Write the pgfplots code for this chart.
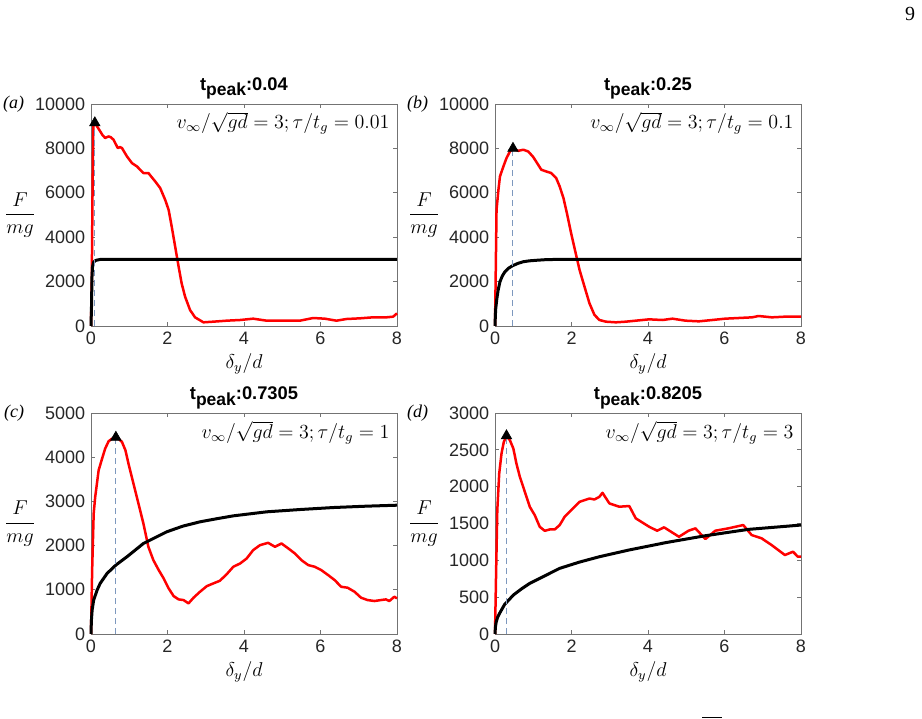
\documentclass[border=0pt]{standalone}
\usepackage{fontspec}
\setmainfont{Liberation Serif}
\newfontfamily\arial{Liberation Sans}
\usepackage{pgfplots}
\pgfplotsset{compat=1.18}
\definecolor{axgray}{gray}{0.15}
\definecolor{dashblue}{RGB}{125,152,190}
\newcommand\tickfont{\arial\fontsize{10.8}{13}\selectfont}
\newcommand\mathsz{\fontsize{12}{14}\selectfont}
\newcommand\ttl[1]{\arial\bfseries\fontsize{11}{13}\selectfont t\raisebox{-3.2pt}{\fontsize{10.5}{12}\selectfont peak}:#1}
\pgfplotsset{
  panel/.style={
    scale only axis, width=183.6pt, height=133.2pt,
    xmin=0, xmax=8, ymin=0, xtick={0,2,4,6,8},
    clip=false,
    tick align=inside, major tick length=2.2pt,
    axis line style={black!55, line width=0.5pt},
    every tick/.style={black!55, line width=0.5pt},
    ticklabel style={font=\tickfont, text=axgray},
    scaled y ticks=false,
    /pgf/number format/set thousands separator={},
    /pgf/number format/assume math mode=true,
  },
  redl/.style={red, line width=1.5pt, line join=round},
  blkl/.style={black, line width=1.8pt, line join=round},
  dashl/.style={dashblue, line width=0.6pt, dash pattern=on 3.6pt off 2.4pt},
  peakm/.style={only marks, mark=triangle*, mark size=3.6pt, black, mark options={fill=black}},
}
\newcommand\panelextras[3]{%
  \node[anchor=east, font=\fontsize{10.8}{13}\selectfont\itshape] at (rel axis cs:0,1) [xshift=-36.6pt] {(#1)};
  \node[anchor=center] at (rel axis cs:0,0.5) [xshift=-42.6pt] {\fontsize{11.5}{14}\selectfont$\displaystyle\frac{F}{mg}$};
  \node[anchor=base east, inner sep=1pt] at (rel axis cs:1,1) [xshift=-3.3pt, yshift=-15pt] {\mathsz$v_\infty/\sqrt{gd}=3;\tau/t_g=#2$};
  \node[anchor=center] at (rel axis cs:0.5,0) [yshift=-22.4pt] {\mathsz$\delta_y/d$};
  \node[anchor=base, inner sep=1pt] at (rel axis cs:0.5,1) [yshift=8pt] {\ttl{#3}};
}
\begin{document}
\begin{tikzpicture}
\path[use as bounding box] (0,0) rectangle (553.2pt,430.8pt);
\node[anchor=center, font=\fontsize{12}{14}\selectfont] at (546pt,422.4pt) {9};
\draw[line width=0.5pt] (421.2pt,0.6pt) -- (433.2pt,0.6pt);

% (a)
\begin{axis}[panel, at={(54.6pt,235.2pt)}, anchor=south west, ymax=10000,
  ytick={0,2000,4000,6000,8000,10000}]
\addplot[redl] coordinates {(0,0) (0.02,2000) (0.04,6000) (0.06,9000) (0.1,9150) (0.16,8990) (0.24,8770) (0.3,8600) (0.37,8470) (0.46,8540) (0.52,8500) (0.59,8390) (0.70,8015) (0.76,8060) (0.81,8015) (0.94,7640) (1.07,7340) (1.2,7190) (1.37,6890) (1.5,6890) (1.68,6510) (1.81,6210) (1.94,5680) (2.03,5230) (2.11,4480) (2.2,3580) (2.29,2680) (2.37,1920) (2.46,1320) (2.59,720) (2.72,390) (2.94,165) (3.2,195) (3.55,240) (3.9,270) (4.24,330) (4.59,240) (5.03,240) (5.46,240) (5.81,360) (6.11,330) (6.42,240) (6.68,315) (7.03,345) (7.37,390) (7.72,390) (7.9,420) (8,570)};
\addplot[blkl] coordinates {(0,0) (0.015,1000) (0.025,2200) (0.04,2670) (0.07,2880) (0.13,2960) (0.25,3000) (8,3000)};
\addplot[dashl] coordinates {(0.1,0) (0.1,9150)};
\addplot[peakm] coordinates {(0.1,9150)};
\panelextras{a}{0.01}{0.04}
\end{axis}

% (b)
\begin{axis}[panel, at={(297pt,235.2pt)}, anchor=south west, ymax=10000,
  ytick={0,2000,4000,6000,8000,10000}]
\addplot[redl] coordinates {(0,0) (0.02,2530) (0.04,5230) (0.09,6140) (0.13,6740) (0.22,7190) (0.30,7560) (0.39,7860) (0.47,8000) (0.61,7890) (0.74,7940) (0.87,7860) (1.0,7610) (1.13,7260) (1.21,7040) (1.34,6960) (1.47,6890) (1.6,6660) (1.69,6290) (1.79,5760) (1.88,5080) (1.99,4180) (2.10,3350) (2.21,2530) (2.34,1770) (2.47,1020) (2.6,500) (2.73,270) (2.9,195) (3.16,165) (3.42,195) (3.68,240) (4.03,300) (4.38,270) (4.64,330) (4.98,240) (5.33,210) (5.68,270) (6.02,330) (6.37,360) (6.72,390) (6.89,450) (7.24,390) (7.58,420) (8,420)};
\addplot[blkl] coordinates {(0,0) (0.01,500) (0.02,800) (0.044,1170) (0.08,1600) (0.13,1995) (0.19,2250) (0.26,2445) (0.35,2600) (0.46,2715) (0.6,2820) (0.74,2895) (0.9,2935) (1.08,2960) (1.3,2985) (1.6,3000) (8,3000)};
\addplot[dashl] coordinates {(0.47,0) (0.47,8000)};
\addplot[peakm] coordinates {(0.47,8000)};
\panelextras{b}{0.1}{0.25}
\end{axis}

% (c)
\begin{axis}[panel, at={(54.6pt,50.4pt)}, anchor=south west, height=132.6pt, ymax=5000,
  ytick={0,1000,2000,3000,4000,5000}]
\addplot[redl] coordinates {(0,0) (0.03,1446) (0.07,2726) (0.11,3102) (0.2,3705) (0.29,3968) (0.37,4194) (0.46,4360) (0.55,4420) (0.65,4450) (0.72,4420) (0.81,4345) (0.9,4157) (0.98,3855) (1.11,3404) (1.24,2952) (1.37,2500) (1.5,1973) (1.63,1672) (1.77,1446) (1.9,1258) (2.03,1032) (2.16,858) (2.29,783) (2.42,768) (2.55,693) (2.68,821) (2.85,956) (3.03,1084) (3.2,1145) (3.37,1205) (3.55,1355) (3.72,1521) (3.9,1596) (4.07,1709) (4.24,1898) (4.42,2011) (4.63,2063) (4.81,1973) (4.98,2048) (5.16,1935) (5.33,1822) (5.5,1672) (5.68,1559) (5.85,1521) (6.02,1446) (6.2,1333) (6.37,1220) (6.54,1069) (6.71,1047) (6.89,956) (7.06,821) (7.23,768) (7.41,746) (7.58,768) (7.71,783) (7.8,746) (7.93,843) (8,806)};
\addplot[blkl] coordinates {(0,0) (0.01,300) (0.03,542) (0.07,768) (0.16,994) (0.24,1145) (0.42,1370) (0.65,1560) (0.94,1747) (1.37,2048) (1.98,2312) (2.4,2440) (2.85,2538) (3.3,2610) (3.72,2673) (4.59,2764) (5.46,2816) (6.33,2861) (7.2,2892) (8,2914)};
\addplot[dashl] coordinates {(0.65,0) (0.65,4450)};
\addplot[peakm] coordinates {(0.65,4450)};
\panelextras{c}{1}{0.7305}
\end{axis}

% (d)
\begin{axis}[panel, at={(297pt,50.4pt)}, anchor=south west, height=132.6pt, ymax=3000,
  ytick={0,500,1000,1500,2000,2500,3000}]
\addplot[redl] coordinates {(0,0) (0.03,868) (0.06,1681) (0.11,2178) (0.17,2449) (0.23,2607) (0.30,2690) (0.39,2630) (0.48,2517) (0.56,2314) (0.65,2133) (0.78,1930) (0.91,1726) (1.04,1613) (1.17,1455) (1.3,1401) (1.43,1419) (1.56,1419) (1.69,1478) (1.82,1591) (1.95,1659) (2.08,1726) (2.21,1794) (2.34,1817) (2.47,1839) (2.6,1826) (2.73,1863) (2.81,1917) (2.99,1773) (3.25,1728) (3.51,1737) (3.68,1570) (4.03,1456) (4.24,1402) (4.42,1448) (4.81,1320) (5.06,1402) (5.24,1434) (5.5,1289) (5.76,1402) (6.1,1434) (6.49,1479) (6.71,1343) (6.97,1299) (7.23,1208) (7.58,1072) (7.79,1117) (7.92,1049) (8,1049)};
\addplot[blkl] coordinates {(0,0) (0.01,90) (0.03,160) (0.07,230) (0.13,290) (0.25,400) (0.48,529) (0.7,615) (0.91,688) (1.34,800) (1.69,891) (2.2,975) (2.73,1049) (3.5,1140) (4.46,1240) (5.5,1334) (6.62,1420) (8,1479)};
\addplot[dashl] coordinates {(0.30,0) (0.30,2690)};
\addplot[peakm] coordinates {(0.30,2690)};
\panelextras{d}{3}{0.8205}
\end{axis}
\end{tikzpicture}
\end{document}
